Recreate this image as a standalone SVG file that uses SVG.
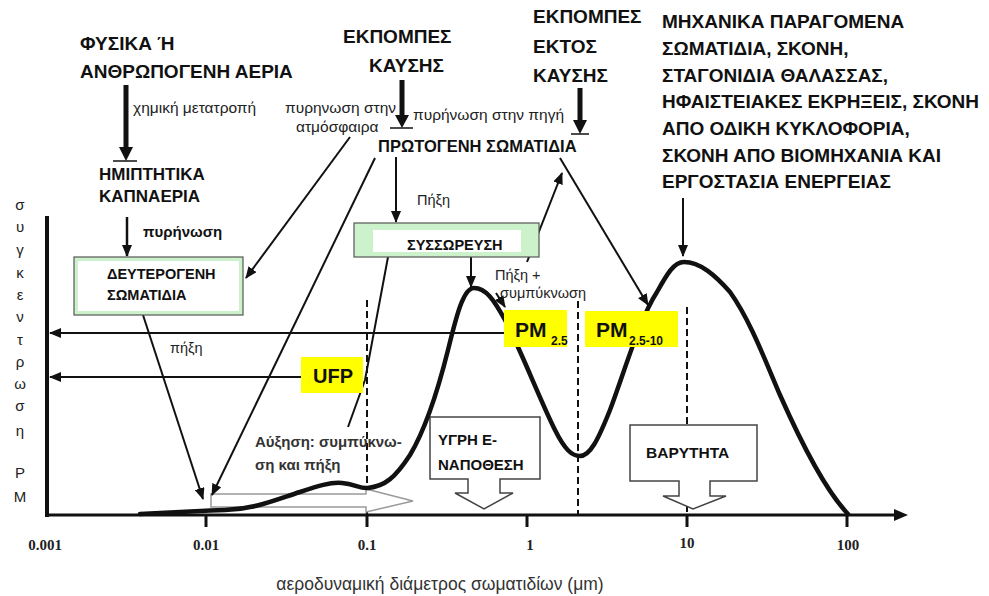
<svg xmlns="http://www.w3.org/2000/svg" width="989" height="596" viewBox="0 0 989 596">
<defs>
<marker id="ah" markerUnits="userSpaceOnUse" markerWidth="12" markerHeight="10" refX="11" refY="5" orient="auto"><path d="M0,0 L12,5 L0,10 Z" fill="#111"/></marker>
<style>
.big{font-family:"Liberation Sans",Arial,sans-serif;font-weight:bold;font-size:19px;fill:#111}
.mid{font-family:"Liberation Sans",Arial,sans-serif;font-weight:bold;font-size:14.5px;fill:#111}
.sm{font-family:"Liberation Sans",Arial,sans-serif;font-size:15.5px;fill:#222}
.ax{font-family:"Liberation Serif","Times New Roman",serif;font-weight:bold;font-size:15px;fill:#222;text-anchor:middle}
.yl{font-family:"Liberation Sans",Arial,sans-serif;font-size:15px;fill:#222;text-anchor:middle}
.pm{font-family:"Liberation Sans",Arial,sans-serif;font-weight:bold;font-size:21px;fill:#111}
.sub{font-family:"Liberation Sans",Arial,sans-serif;font-weight:bold;font-size:12px;fill:#111}
.ln{stroke:#111;stroke-width:2;fill:none}
.la{stroke:#111;stroke-width:2;fill:none;marker-end:url(#ah)}
.dash{stroke:#111;stroke-width:2;stroke-dasharray:7,4;fill:none}
.yel{fill:#ffff00}
.call{fill:#fff;stroke:#444;stroke-width:1.5}
</style>
</defs>
<rect width="989" height="596" fill="#fff"/>

<!-- axes -->
<g id="axes">
<line x1="47" y1="216" x2="47" y2="517" stroke="#111" stroke-width="4"/>
<line x1="45" y1="515" x2="898" y2="515" stroke="#111" stroke-width="3"/>
<path d="M894,509 L908,515 L894,521 Z" fill="#111"/>
<g stroke="#111" stroke-width="3">
<line x1="206" y1="515" x2="206" y2="527"/><line x1="367" y1="515" x2="367" y2="527"/>
<line x1="527" y1="515" x2="527" y2="527"/><line x1="687" y1="515" x2="687" y2="527"/>
<line x1="847" y1="515" x2="847" y2="527"/>
</g>
<text class="ax" x="45" y="550">0.001</text>
<text class="ax" x="206" y="550">0.01</text>
<text class="ax" x="367" y="550">0.1</text>
<text class="ax" x="530" y="550">1</text>
<text class="ax" x="687" y="548">10</text>
<text class="ax" x="848" y="550">100</text>
<text x="440" y="590" text-anchor="middle" style="font-family:'Liberation Sans',Arial,sans-serif;font-size:17.5px;fill:#333">αεροδυναμική διάμετρος σωματιδίων (μm)</text>
<g class="yl">
<text x="20" y="210">σ</text><text x="20" y="232">υ</text><text x="20" y="255">γ</text><text x="20" y="278">κ</text>
<text x="20" y="300">ε</text><text x="20" y="322">ν</text><text x="20" y="345">τ</text><text x="20" y="367">ρ</text>
<text x="20" y="389">ω</text><text x="20" y="411">σ</text><text x="20" y="436">η</text>
<text x="20" y="478">Ρ</text><text x="20" y="502">Μ</text>
</g>
</g>

<!-- dashed lines -->
<g id="dashes">
<line class="dash" x1="367" y1="300" x2="367" y2="514"/>
<line class="dash" x1="578" y1="301" x2="578" y2="514"/>
<line class="dash" x1="687" y1="307" x2="687" y2="512"/>
</g>

<!-- hollow growth arrow -->
<g id="growth-arrow">
<path d="M211,494 L366,494 L366,489 L413,501 L366,512 L366,507 L211,507 Z" fill="#fff" stroke="#9a9a9a" stroke-width="1.5"/>
</g>

<!-- callouts -->
<g id="wet-deposition">
<path class="call" d="M430,417 L540,417 L540,479 L500,479 L500,493 L513,493 L484,509 L455,493 L468,493 L468,479 L430,479 Z"/>
<text class="mid" x="438" y="445" style="font-size:15px">ΥΓΡΗ Ε-</text>
<text class="mid" x="438" y="470" style="font-size:15px">ΝΑΠΟΘΕΣΗ</text>
</g>
<g id="gravity">
<path class="call" d="M630,425 L757,425 L757,481 L710,481 L710,496 L726,496 L693,509 L663,496 L679,496 L679,481 L630,481 Z"/>
<text class="mid" x="646" y="458" style="font-size:15.5px">ΒΑΡΥΤΗΤΑ</text>
</g>

<!-- curve -->
<g id="distribution-curve">
<path d="M140,514 C180,512 200,511 225,510 C255,509 275,500 300,492 C318,486 330,482 342,483 C355,484 360,489 368,488 C385,486 395,478 410,455 C425,430 438,390 448,350 C456,318 463,288 474,288 C486,288 494,300 505,320 C520,348 540,400 555,430 C565,450 572,456 580,456 C590,456 598,440 610,410 C625,370 640,318 657,292 C667,274 674,262 684,262 C700,262 715,275 730,292 C750,320 765,360 780,395 C800,440 825,490 848,514" fill="none" stroke="#111" stroke-width="4.5" stroke-linecap="round"/>
</g>

<!-- connectors -->
<g id="connectors">
<line x1="126" y1="85" x2="126" y2="150" stroke="#111" stroke-width="5"/>
<path d="M119,147 L133,147 L126,161 Z" fill="#111"/>
<line x1="113" y1="161" x2="137" y2="161" stroke="#111" stroke-width="1.5"/>
<line x1="402" y1="80" x2="402" y2="117" stroke="#111" stroke-width="5"/>
<path d="M395,115 L409,115 L402,128 Z" fill="#111"/>
<line x1="390" y1="128" x2="413" y2="128" stroke="#111" stroke-width="1.5"/>
<line x1="580" y1="88" x2="580" y2="122" stroke="#111" stroke-width="5"/>
<path d="M573,120 L587,120 L580,134 Z" fill="#111"/>
<line x1="571" y1="134" x2="589" y2="134" stroke="#111" stroke-width="1.5"/>
<line class="la" x1="127" y1="217" x2="127" y2="256" style="stroke-width:2.5"/>
<line class="la" x1="350" y1="137" x2="246" y2="278"/>
<line class="la" x1="375" y1="158" x2="212" y2="495"/>
<line class="la" x1="143" y1="315" x2="203" y2="499"/>
<polyline class="ln" points="388,257 365,380 348,427"/>
<line class="la" x1="396" y1="157" x2="396" y2="222"/>
<line class="la" x1="471" y1="257" x2="471" y2="287"/>
<line class="la" x1="527" y1="262" x2="562" y2="173"/>
<line class="la" x1="496" y1="293" x2="505" y2="307"/>
<line class="la" x1="560" y1="158" x2="648" y2="305"/>
<line class="la" x1="683" y1="198" x2="683" y2="256"/>
<line class="la" x1="505" y1="333" x2="50" y2="333"/>
<line class="la" x1="301" y1="377" x2="50" y2="377"/>
</g>

<!-- source labels -->
<g id="gases">
<text class="big" x="80" y="50">ΦΥΣΙΚΑ Ή</text>
<text class="big" x="80" y="78">ΑΝΘΡΩΠΟΓΕΝΗ ΑΕΡΙΑ</text>
<text class="sm" x="133" y="113">χημική μετατροπή</text>
</g>
<g id="semivolatile">
<text class="big" x="99" y="180" style="font-size:17px">ΗΜΙΠΤΗΤΙΚΑ</text>
<text class="big" x="99" y="202" style="font-size:17px">ΚΑΠΝΑΕΡΙΑ</text>
<text class="mid" x="143" y="237" style="font-size:15px">πυρήνωση</text>
</g>
<g id="combustion">
<text class="big" x="343" y="43">ΕΚΠΟΜΠΕΣ</text>
<text class="big" x="369" y="72">ΚΑΥΣΗΣ</text>
<text class="sm" x="285" y="113">πυρηνωση στην</text>
<text class="sm" x="296" y="132">ατμόσφαιρα</text>
<text class="sm" x="413" y="120">πυρήνωση στην πηγή</text>
</g>
<g id="noncombustion">
<text class="big" x="533" y="23">ΕΚΠΟΜΠΕΣ</text>
<text class="big" x="533" y="53">ΕΚΤΟΣ</text>
<text class="big" x="533" y="82">ΚΑΥΣΗΣ</text>
</g>
<g id="mechanical">
<text class="big" x="662" y="28">ΜΗΧΑΝΙΚΑ ΠΑΡΑΓΟΜΕΝΑ</text>
<text class="big" x="662" y="55">ΣΩΜΑΤΙΔΙΑ, ΣΚΟΝΗ,</text>
<text class="big" x="662" y="82">ΣΤΑΓΟΝΙΔΙΑ ΘΑΛΑΣΣΑΣ,</text>
<text class="big" x="662" y="108">ΗΦΑΙΣΤΕΙΑΚΕΣ ΕΚΡΗΞΕΙΣ, ΣΚΟΝΗ</text>
<text class="big" x="662" y="135">ΑΠΟ ΟΔΙΚΗ ΚΥΚΛΟΦΟΡΙΑ,</text>
<text class="big" x="662" y="162">ΣΚΟΝΗ ΑΠΟ ΒΙΟΜΗΧΑΝΙΑ ΚΑΙ</text>
<text class="big" x="662" y="188">ΕΡΓΟΣΤΑΣΙΑ ΕΝΕΡΓΕΙΑΣ</text>
</g>
<g id="primary">
<text class="big" x="378" y="152" style="font-size:16.5px">ΠΡΩΤΟΓΕΝΗ ΣΩΜΑΤΙΔΙΑ</text>
<text class="sm" x="417" y="205" style="font-size:14.5px">Πήξη</text>
</g>

<!-- boxes -->
<g id="secondary">
<rect x="74" y="257" width="169" height="58" fill="#ccf2cc" stroke="#555" stroke-width="1.2"/>
<rect x="78" y="261" width="161" height="50" fill="#fff"/>
<text class="mid" x="107" y="279">ΔΕΥΤΕΡΟΓΕΝΗ</text>
<text class="mid" x="107" y="300">ΣΩΜΑΤΙΔΙΑ</text>
</g>
<g id="accumulation">
<rect x="354" y="223" width="185" height="34" fill="#ccf2cc" stroke="#555" stroke-width="1.2"/>
<rect x="373" y="230" width="148" height="22" fill="#fff"/>
<text class="mid" x="407" y="250">ΣΥΣΣΩΡΕΥΣΗ</text>
</g>
<g id="coag-label">
<text class="sm" x="170" y="353" style="font-size:14.5px">πήξη</text>
<text class="sm" x="495" y="280" style="font-size:14.5px">Πήξη +</text>
<text class="sm" x="500" y="298" style="font-size:14.5px">συμπύκνωση</text>
<text class="mid" x="255" y="447" style="font-size:15px;fill:#333">Αύξηση: συμπύκνω-</text>
<text class="mid" x="255" y="470" style="font-size:15px;fill:#333">ση και πήξη</text>
</g>
<g id="ufp">
<rect class="yel" x="301" y="357" width="62" height="36"/>
<text class="pm" x="313" y="383" style="font-size:20px">UFP</text>
</g>
<g id="pm25">
<rect class="yel" x="504" y="310" width="63" height="37"/>
<text class="pm" x="515" y="337">PM</text><text class="sub" x="551" y="345">2.5</text>
</g>
<g id="pm2510">
<rect class="yel" x="585" y="311" width="93" height="36"/>
<text class="pm" x="596" y="337">PM</text><text class="sub" x="629" y="345">2.5-10</text>
</g>
</svg>
